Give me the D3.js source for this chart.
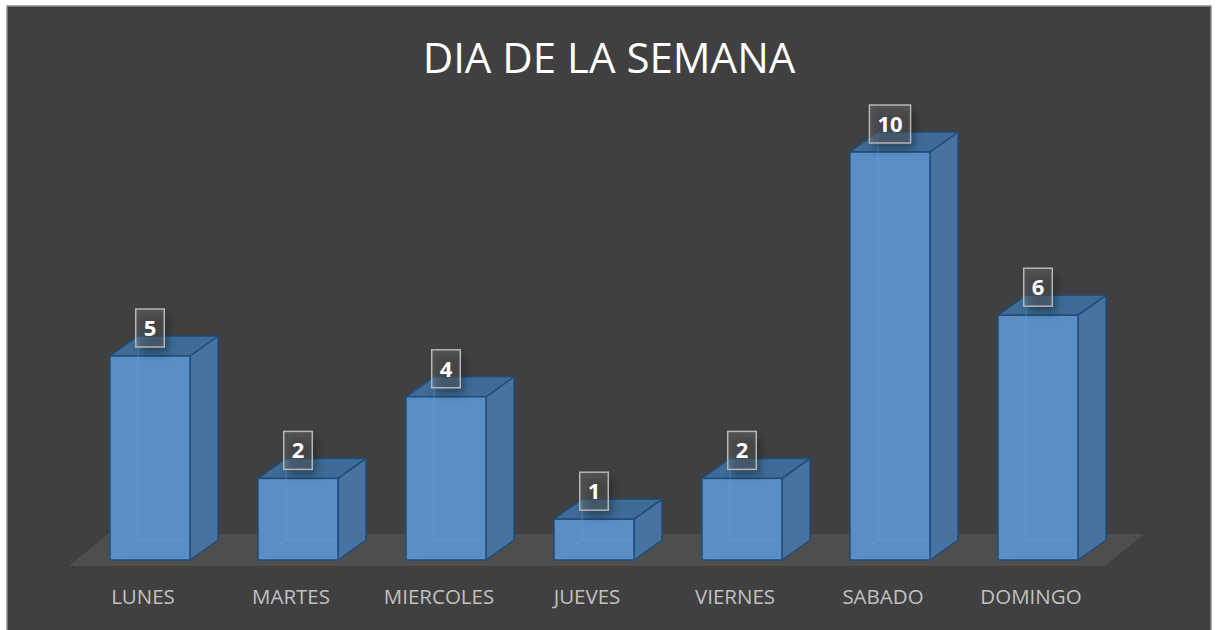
<!DOCTYPE html>
<html>
<head>
<meta charset="utf-8">
<script src="https://cdn.jsdelivr.net/npm/d3@7"></script>
<style>
  html, body { margin: 0; padding: 0; background: #ffffff; }
  svg { display: block; }
</style>
</head>
<body>
<svg id="chart" width="1219" height="630"></svg>
<script>
// ---- data ----
const categories = ["LUNES", "MARTES", "MIERCOLES", "JUEVES", "VIERNES", "SABADO", "DOMINGO"];
const values = [5, 2, 4, 1, 2, 10, 6];
const chartTitle = "DIA DE LA SEMANA";

// ---- layout ----
const W = 1219, H = 630;
const svg = d3.select("#chart");
const FONT = "'Open Sans', 'Noto Sans', sans-serif";

const defs = svg.append("defs");
const f = defs.append("filter").attr("id", "lblShadow")
  .attr("x", "-50%").attr("y", "-50%").attr("width", "200%").attr("height", "200%");
f.append("feGaussianBlur").attr("stdDeviation", 4);

// chart area
svg.append("rect").attr("x", 7).attr("y", 6).attr("width", 1204).attr("height", 640)
  .attr("fill", "#404040").attr("stroke", "#8f8f8f").attr("stroke-width", 1.5);

// scales
const x = d3.scaleBand().domain(categories).range([69, 1105]).padding(0);
const y = d3.scaleLinear().domain([0, 10]).range([560, 152]);

const barW = 80, barOff = 41;      // front face width and offset inside band
const dx = 28, dy = -20;           // 3D depth of bars
const floorFront = 6, floorBackDx = 39, floorBackDy = -32;

// title
svg.append("text").attr("x", 609).attr("y", 73)
  .attr("text-anchor", "middle").attr("font-family", FONT)
  .attr("font-size", 42).attr("fill", "#ffffff").text(chartTitle);

// floor
const fx0 = x.range()[0], fx1 = x.range()[1], fy = y(0) + floorFront;
svg.append("polygon")
  .attr("points", [[fx0, fy], [fx1, fy], [fx1 + floorBackDx, fy + floorBackDy], [fx0 + floorBackDx, fy + floorBackDy]].map(p => p.join(",")).join(" "))
  .attr("fill", "#4f4e4e");

const edge = "#1f4e79";
const data = categories.map((c, i) => ({ c, v: values[i] }));

const bars = svg.append("g").selectAll("g").data(data).join("g");

bars.each(function (d) {
  const g = d3.select(this);
  const x0 = x(d.c) + barOff, x1 = x0 + barW;
  const yt = y(d.v), yb = y(0);
  const pts = a => a.map(p => p.join(",")).join(" ");
  // side face
  g.append("polygon").attr("points", pts([[x1, yb], [x1 + dx, yb + dy], [x1 + dx, yt + dy], [x1, yt]]))
    .attr("fill", "#4673a0").attr("stroke", edge).attr("stroke-width", 1.5).attr("stroke-linejoin", "round");
  // top face
  g.append("polygon").attr("points", pts([[x0, yt], [x1, yt], [x1 + dx, yt + dy], [x0 + dx, yt + dy]]))
    .attr("fill", "#3e6c97").attr("stroke", edge).attr("stroke-width", 1.5).attr("stroke-linejoin", "round");
  // front face
  g.append("rect").attr("x", x0).attr("y", yt).attr("width", barW).attr("height", yb - yt)
    .attr("fill", "#5a8ec5").attr("stroke", edge).attr("stroke-width", 1.5);
  // hidden back edges seen through
  const hid = "#6a9fd6";
  g.append("line").attr("x1", x0 + dx).attr("y1", Math.min(yt + dy + 2, yb + dy)).attr("x2", x0 + dx).attr("y2", yb + dy)
    .attr("stroke", hid).attr("stroke-width", 1).attr("opacity", 0.5);
  g.append("line").attr("x1", x0 + dx).attr("y1", yb + dy).attr("x2", x1 - 1).attr("y2", yb + dy)
    .attr("stroke", hid).attr("stroke-width", 1).attr("opacity", 0.5);
  g.append("line").attr("x1", x0 + 1).attr("y1", yb - 1).attr("x2", x0 + dx).attr("y2", yb + dy)
    .attr("stroke", hid).attr("stroke-width", 1).attr("opacity", 0.5);
});

// value labels
bars.each(function (d) {
  const g = d3.select(this);
  const cx = x(d.c) + barOff + barW / 2;
  const cy = y(d.v) - 28;
  const t = g.append("text").attr("x", cx).attr("y", cy + 8)
    .attr("text-anchor", "middle").attr("font-family", FONT).attr("font-weight", 700)
    .attr("font-size", 22).attr("fill", "#ffffff").text(d.v);
  const tw = t.node().getComputedTextLength();
  const bw = tw + 16, bh = 38;
  g.insert("rect", "text").attr("x", cx - bw / 2 + 4).attr("y", cy - bh / 2 + 6).attr("width", bw).attr("height", bh)
    .attr("fill", "#000").attr("opacity", 0.35).attr("filter", "url(#lblShadow)");
  g.insert("rect", "text").attr("x", cx - bw / 2).attr("y", cy - bh / 2).attr("width", bw).attr("height", bh)
    .attr("fill", "#7a7a7a").attr("fill-opacity", 0.35)
    .attr("stroke", "#b5b5b5").attr("stroke-width", 1.5);
});

// category labels
svg.append("g").selectAll("text").data(categories).join("text")
  .attr("x", d => x(d) + x.bandwidth() / 2).attr("y", 604)
  .attr("text-anchor", "middle").attr("font-family", FONT)
  .attr("font-size", 20.5).attr("fill", "#c0c0c0").text(d => d);
</script>
</body>
</html>
